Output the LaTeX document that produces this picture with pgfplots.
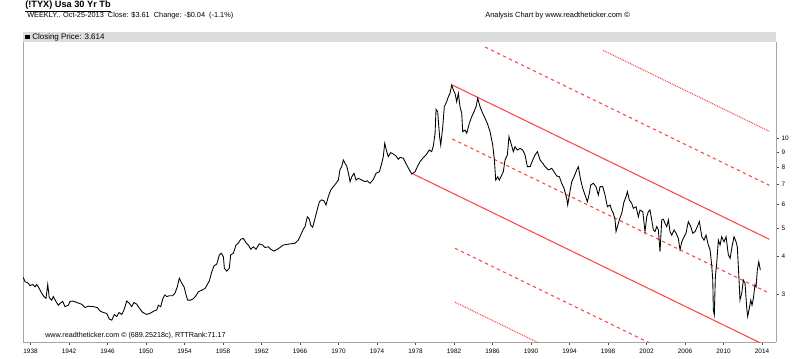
\documentclass[border=0pt]{standalone}
\usepackage{fontspec}
\setmainfont{Liberation Sans}
\usepackage{pgfplots}
\pgfplotsset{compat=1.18}
\definecolor{rline}{RGB}{255,70,70}
\definecolor{band}{RGB}{220,220,220}
\definecolor{axgray}{RGB}{165,165,165}
\begin{document}
\begin{tikzpicture}
\begin{scope}[x=0.75pt,y=-0.75pt]
\path[use as bounding box] (0,0) rectangle (800,358);
\fill[band] (23,32) rectangle (776,42);
\fill[black] (25,34.5) rectangle (29.5,39);
\node[anchor=west, inner sep=0, font=\fontsize{6}{7}\selectfont] at (32,37) {Closing Price: 3.614};
\node[anchor=west, inner sep=0, font=\bfseries\fontsize{6.9}{8}\selectfont] at (25,6.5) {\underline{(!TYX) Usa 30 Yr Tb}};
\node[anchor=west, inner sep=0, font=\fontsize{5.5}{6}\selectfont] at (27,16) {WEEKLY.. Oct-25-2013\ \ Close: \$3.61\ \ Change: -\$0.04\ \ (-1.1\%)};
\node[anchor=west, inner sep=0, font=\fontsize{5.6}{6}\selectfont] at (485,16) {Analysis Chart by www.readtheticker.com \textcopyright};
\node[anchor=west, inner sep=0, font=\fontsize{5.4}{6}\selectfont] at (45,336) {www.readtheticker.com \textcopyright{} (689.25218c), RTTRank:71.17};
\end{scope}
\begin{axis}[
  at={(17.25pt,-256.5pt)}, anchor=south west,
  width=564.75pt, height=225pt, scale only axis,
  xmin=1937.22, xmax=2015.45,
  ymode=log, ymin=2.069, ymax=21.06,
  axis x line*=bottom, axis y line*=right,
  axis line style={axgray, line width=0.6pt, -},
  xtick={1938,1942,...,2014},
  ytick={3,4,5,6,7,8,9,10},
  yticklabels={3,4,5,6,7,8,9,10},
  minor ytick={},
  tick style={black!70, line width=0.5pt},
  major tick length=2.2pt,
  tick align=outside,
  /pgf/number format/1000 sep={},
  /pgf/number format/assume math mode=true,
  tick label style={font=\fontsize{4.8}{5}\selectfont},
  xticklabel style={yshift=0.5pt},
  yticklabel style={xshift=-1.5pt},
  clip=true,
]
\draw[axgray, line width=0.6pt] (rel axis cs:0,0) -- (rel axis cs:0,1);
% channel lines
\addplot[rline, line width=0.8pt] coordinates {(1981.82,15.10) (2014.76,4.579)};
\addplot[rline, line width=0.8pt] coordinates {(1977.74,7.594) (2014.76,1.986)};
\addplot[rline, line width=0.8pt, dash pattern=on 2.5pt off 2.5pt] coordinates {(1981.82,9.947) (2014.50,3.045)};
\addplot[rline, line width=0.8pt, dash pattern=on 2.5pt off 2.5pt] coordinates {(1985.22,20.26) (2014.76,6.95)};
\addplot[rline, line width=0.8pt, dash pattern=on 2.5pt off 2.5pt] coordinates {(1982.10,4.272) (2014.76,1.309)};
\addplot[rline, line width=0.8pt, dash pattern=on 0.7pt off 0.7pt] coordinates {(1997.48,19.75) (2014.76,10.55)};
\addplot[rline, line width=0.8pt, dash pattern=on 0.7pt off 0.7pt] coordinates {(1982.10,2.815) (2014.76,0.862)};
% closing price
\addplot[black, line width=0.65pt] coordinates {
(1937.25,3.41) (1937.43,3.30) (1937.77,3.26) (1937.95,3.20) (1938.23,3.23) (1938.47,3.17)
(1938.64,3.23) (1938.81,3.17) (1939.16,3.02) (1939.40,2.94) (1939.61,2.90) (1939.79,3.23)
(1939.95,2.91) (1940.20,2.86) (1940.37,2.94) (1940.65,2.83) (1940.89,2.75) (1941.06,2.79)
(1941.35,2.83) (1941.58,2.72) (1941.93,2.75) (1942.10,2.83) (1942.38,2.84) (1942.80,2.81)
(1943.32,2.77) (1943.66,2.70) (1944.01,2.73) (1944.53,2.72) (1944.94,2.70) (1945.22,2.63)
(1945.56,2.60) (1945.92,2.58) (1946.19,2.47) (1946.44,2.45) (1946.71,2.56) (1946.96,2.52)
(1947.20,2.60) (1947.48,2.56) (1947.71,2.65) (1948.00,2.84) (1948.27,2.79) (1948.52,2.72)
(1948.75,2.81) (1949.04,2.77) (1949.30,2.69) (1949.66,2.60) (1950.07,2.56) (1950.49,2.59)
(1950.83,2.63) (1951.11,2.65) (1951.28,2.75) (1951.53,2.72) (1951.74,2.89) (1951.97,2.98)
(1952.15,2.94) (1952.42,2.96) (1952.77,2.96) (1953.01,3.02) (1953.25,3.17) (1953.46,3.39)
(1953.71,3.26) (1953.95,3.17) (1954.16,2.98) (1954.33,2.86) (1954.64,2.86) (1954.91,2.89)
(1955.19,2.96) (1955.43,3.05) (1955.79,3.09) (1956.13,3.13) (1956.37,3.23) (1956.58,3.32)
(1956.83,3.56) (1957.07,3.73) (1957.35,3.78) (1957.62,4.06) (1957.83,4.11) (1958.04,4.00)
(1958.14,3.66) (1958.39,3.58) (1958.65,3.66) (1958.80,4.06) (1959.07,4.11) (1959.35,4.38)
(1959.59,4.44) (1959.84,4.58) (1960.11,4.61) (1960.39,4.46) (1960.63,4.38) (1960.88,4.24)
(1961.15,4.32) (1961.43,4.24) (1961.77,4.42) (1962.12,4.38) (1962.36,4.30) (1962.71,4.32)
(1962.96,4.24) (1963.30,4.18) (1963.75,4.26) (1964.26,4.38) (1964.96,4.42) (1965.48,4.44)
(1965.82,4.55) (1966.07,4.73) (1966.34,4.95) (1966.52,5.05) (1966.76,5.45) (1966.97,5.35)
(1967.11,5.11) (1967.32,5.03) (1967.56,5.39) (1967.80,5.78) (1968.01,6.12) (1968.25,6.21)
(1968.49,6.17) (1968.70,5.97) (1968.94,6.37) (1969.19,6.70) (1969.46,6.88) (1969.74,7.06)
(1969.98,7.24) (1970.16,7.87) (1970.33,8.03) (1970.50,8.46) (1970.68,8.24) (1970.85,8.07)
(1971.02,7.66) (1971.20,7.15) (1971.38,7.43) (1971.61,7.63) (1971.82,7.24) (1972.06,7.34)
(1972.41,7.24) (1972.75,7.15) (1972.99,7.20) (1973.27,7.06) (1973.62,7.28) (1973.90,7.63)
(1974.24,7.72) (1974.49,8.24) (1974.65,8.68) (1974.80,9.62) (1975.01,9.02) (1975.17,8.68)
(1975.42,8.95) (1975.69,8.86) (1975.97,8.72) (1976.21,8.50) (1976.39,8.63) (1976.73,8.57)
(1977.09,8.13) (1977.36,7.83) (1977.61,7.59) (1977.95,7.72) (1978.19,8.03) (1978.47,8.35)
(1978.75,8.57) (1979.09,8.79) (1979.43,9.13) (1979.68,9.02) (1979.85,9.42) (1980.03,10.40)
(1980.13,12.51) (1980.30,12.29) (1980.50,10.13) (1980.62,9.49) (1980.83,10.94) (1980.99,12.77)
(1981.24,13.27) (1981.41,13.80) (1981.58,14.16) (1981.76,15.10) (1981.93,14.53) (1982.10,14.16)
(1982.28,13.27) (1982.45,14.16) (1982.62,12.77) (1982.80,12.13) (1982.90,10.53) (1983.14,10.66)
(1983.32,10.40) (1983.59,11.23) (1983.84,11.82) (1984.08,12.29) (1984.29,12.77) (1984.46,13.63)
(1984.70,12.77) (1984.98,12.13) (1985.22,11.67) (1985.46,11.23) (1985.74,10.53) (1986.02,9.49)
(1986.19,8.46) (1986.33,7.24) (1986.54,7.43) (1986.71,7.24) (1986.96,7.53) (1987.12,7.72)
(1987.30,8.46) (1987.54,8.79) (1987.71,10.13) (1987.92,9.62) (1988.16,9.02) (1988.34,9.37)
(1988.58,9.13) (1988.86,9.25) (1989.14,9.13) (1989.38,8.79) (1989.62,8.03) (1989.90,8.03)
(1990.18,8.46) (1990.42,8.79) (1990.66,9.02) (1990.94,8.46) (1991.22,8.24) (1991.46,8.03)
(1991.80,7.83) (1992.15,7.93) (1992.39,7.72) (1992.67,7.47) (1992.94,7.43) (1993.19,7.06)
(1993.43,6.79) (1993.71,6.27) (1993.81,5.97) (1993.98,6.45) (1994.23,7.15) (1994.47,7.43)
(1994.75,7.83) (1994.91,8.03) (1995.16,7.24) (1995.37,6.79) (1995.61,6.45) (1995.85,6.12)
(1996.06,6.54) (1996.20,6.97) (1996.47,7.06) (1996.75,6.88) (1996.99,6.45) (1997.17,6.88)
(1997.45,6.88) (1997.69,6.45) (1997.93,5.89) (1998.21,5.97) (1998.38,5.74) (1998.55,5.60)
(1998.73,5.32) (1998.83,4.86) (1998.97,5.05) (1999.17,5.32) (1999.42,5.60) (1999.66,6.12)
(1999.87,6.37) (2000.01,6.62) (2000.21,6.21) (2000.46,6.05) (2000.63,5.82) (2000.91,5.89)
(2001.15,5.45) (2001.32,5.74) (2001.61,5.67) (2001.84,4.86) (2002.02,5.45) (2002.19,5.67)
(2002.36,5.74) (2002.54,5.32) (2002.71,4.92) (2002.88,4.86) (2003.06,5.05) (2003.23,4.92)
(2003.40,4.16) (2003.58,5.32) (2003.75,5.35) (2003.92,5.18) (2004.10,5.05) (2004.27,5.32)
(2004.44,4.86) (2004.62,4.73) (2004.86,4.92) (2005.07,4.80) (2005.30,4.61) (2005.48,4.22)
(2005.66,4.49) (2005.82,4.61) (2006.10,4.80) (2006.34,5.25) (2006.59,5.05) (2006.80,4.80)
(2007.04,4.86) (2007.28,5.05) (2007.49,5.25) (2007.74,4.67) (2007.97,4.55) (2008.18,4.73)
(2008.42,4.38) (2008.60,4.22) (2008.77,3.75) (2008.88,3.34) (2008.94,2.65) (2009.04,2.55)
(2009.15,3.43) (2009.29,3.80) (2009.46,4.55) (2009.64,4.38) (2009.81,4.67) (2010.05,4.49)
(2010.26,4.67) (2010.50,4.06) (2010.68,3.95) (2010.88,4.32) (2011.09,4.67) (2011.30,4.49)
(2011.43,4.32) (2011.54,3.70) (2011.71,2.86) (2011.89,3.02) (2012.06,3.34) (2012.23,3.26)
(2012.41,2.69) (2012.51,2.52) (2012.68,2.69) (2012.83,2.86) (2012.96,2.75) (2013.10,2.90)
(2013.27,3.22) (2013.38,3.17) (2013.51,3.61) (2013.66,3.85) (2013.79,3.66) (2013.82,3.61)
};
\end{axis}
\end{tikzpicture}
\end{document}
